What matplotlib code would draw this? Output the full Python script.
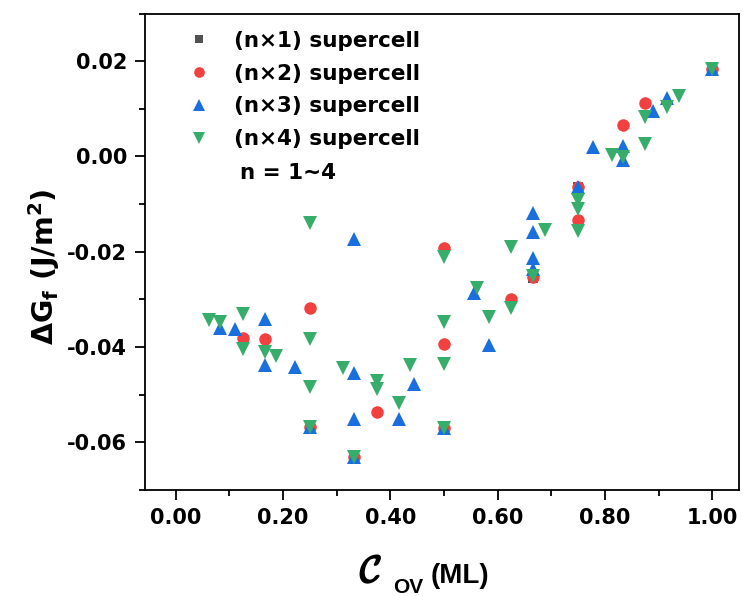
import matplotlib
matplotlib.use("Agg")
import matplotlib.pyplot as plt
import matplotlib.patheffects as pe
from matplotlib.ticker import MultipleLocator, FormatStrFormatter

# (n x 1) supercell
x_n1 = [0.25, 0.3333, 0.5, 0.6667, 0.75, 1.0]
y_n1 = [-0.0567, -0.0630, -0.0570, -0.0255, -0.0064, 0.0184]

# (n x 2) supercell
x_n2 = [0.125, 0.1667, 0.25, 0.25, 0.3333, 0.375, 0.5, 0.5, 0.5,
        0.625, 0.6667, 0.75, 0.75, 0.8333, 0.875, 1.0]
y_n2 = [-0.0382, -0.0384, -0.0318, -0.0567, -0.0630, -0.0536, -0.0193, -0.0394, -0.0570,
        -0.0299, -0.0254, -0.0064, -0.0134, 0.0065, 0.0113, 0.0184]

# (n x 3) supercell
x_n3 = [0.0833, 0.1111, 0.1667, 0.1667, 0.2222, 0.25, 0.3333, 0.3333, 0.3333, 0.3333,
        0.4167, 0.4444, 0.5, 0.5556, 0.5833, 0.6667, 0.6667, 0.6667, 0.6667, 0.75,
        0.7778, 0.8333, 0.8333, 0.8889, 0.9167, 1.0]
y_n3 = [-0.0359, -0.0362, -0.0341, -0.0438, -0.0441, -0.0567, -0.0174, -0.0455, -0.0551, -0.0630,
        -0.0551, -0.0478, -0.0570, -0.0287, -0.0395, -0.0119, -0.0158, -0.0213, -0.0236, -0.0064,
        0.0020, 0.0021, -0.0007, 0.0095, 0.0123, 0.0184]

# (n x 4) supercell
x_n4 = [0.0625, 0.0833, 0.125, 0.125, 0.1667, 0.1875, 0.25, 0.25, 0.25, 0.25,
        0.3125, 0.3333, 0.375, 0.375, 0.4167, 0.4375, 0.5, 0.5, 0.5, 0.5,
        0.5625, 0.5833, 0.625, 0.625, 0.6667, 0.6875, 0.75, 0.75, 0.75, 0.8125,
        0.8333, 0.875, 0.875, 0.9167, 0.9375, 1.0]
y_n4 = [-0.0343, -0.0348, -0.0330, -0.0404, -0.0411, -0.0418, -0.0140, -0.0383, -0.0483, -0.0567,
        -0.0443, -0.0630, -0.0471, -0.0489, -0.0518, -0.0438, -0.0211, -0.0348, -0.0436, -0.0570,
        -0.0276, -0.0336, -0.0189, -0.0319, -0.0250, -0.0154, -0.0091, -0.0110, -0.0157, 0.0004,
        -0.0001, 0.0083, 0.0027, 0.0104, 0.0127, 0.0184]

labels = ["(n\u00d71) supercell", "(n\u00d72) supercell", "(n\u00d73) supercell", "(n\u00d74) supercell"]
colors = ["#515151", "#F14040", "#1A6FDF", "#37AD6B"]

plt.rcParams["font.family"] = "DejaVu Sans"
plt.rcParams["font.weight"] = "bold"
plt.rcParams["axes.labelweight"] = "bold"
plt.rcParams["axes.unicode_minus"] = False

W, H = 742, 596
fig = plt.figure(figsize=(W / 100, H / 100), dpi=100)
ax = fig.add_axes([0.1954, 0.1779, 0.8006, 0.7994])

ax.plot(x_n1, y_n1, ls="none", marker="s", ms=7, color=colors[0], mew=0, label=labels[0])
ax.plot(x_n2, y_n2, ls="none", marker="o", ms=9, color=colors[1], mew=0, label=labels[1])
ax.plot(x_n3, y_n3, ls="none", marker="^", ms=10, color=colors[2], mew=0, label=labels[2])
ax.plot(x_n4, y_n4, ls="none", marker="v", ms=10, color=colors[3], mew=0, label=labels[3])

ax.set_xlim(-0.057, 1.05)
ax.set_ylim(-0.070, 0.030)
ax.xaxis.set_major_locator(MultipleLocator(0.2))
ax.xaxis.set_minor_locator(MultipleLocator(0.1))
ax.yaxis.set_major_locator(MultipleLocator(0.02))
ax.yaxis.set_minor_locator(MultipleLocator(0.01))
ax.xaxis.set_major_formatter(FormatStrFormatter("%.2f"))
ax.yaxis.set_major_formatter(FormatStrFormatter("%.2f"))
ax.tick_params(which="major", direction="out", length=7, width=1.3, labelsize=15, pad=6)
ax.tick_params(which="minor", direction="out", length=4, width=1.3)
for s in ax.spines.values():
    s.set_linewidth(1.3)

ax.set_ylabel(r"$\Delta\mathbf{G}_\mathbf{f}$ (J/m$^\mathbf{2}$)", fontsize=20.5)
ax.yaxis.set_label_coords(-0.14, 0.468)

# x label built from pieces: calligraphic C, subscript OV, (ML)
fig.text(360 / W, 14 / H, r"$\mathcal{C}$", fontsize=27, math_fontfamily="cm",
         ha="left", va="baseline",
         path_effects=[pe.withStroke(linewidth=1.3, foreground="black")])
fig.text(393 / W, 3 / H, "OV", fontsize=15, family="Liberation Sans",
         fontweight="bold", ha="left", va="baseline")
fig.text(431 / W, 13 / H, "(ML)", fontsize=20, family="Liberation Sans",
         fontweight="bold", ha="left", va="baseline")

leg = ax.legend(loc="upper left", frameon=False, fontsize=15.5, markerscale=0.85,
                handletextpad=0.6, labelspacing=0.59, borderaxespad=0.3,
                bbox_to_anchor=(0.03, 0.995))
ax.text(0.16, 0.665, "n = 1~4", transform=ax.transAxes, fontsize=15.5,
        fontweight="bold", va="center", ha="left")

fig.savefig("out.png", dpi=100)
